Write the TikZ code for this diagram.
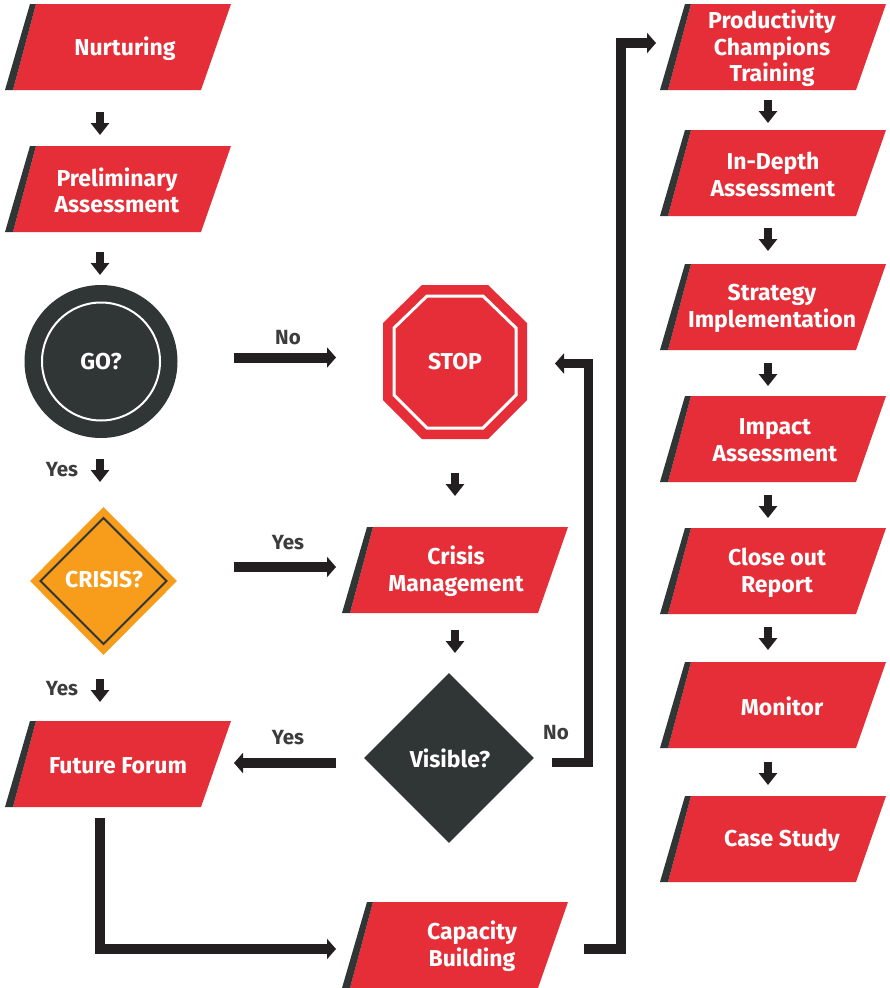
\documentclass[tikz,border=0pt]{standalone}
\usepackage{fontspec}
\setmainfont{Fira Sans}
\usetikzlibrary{arrows.meta,shapes.geometric,calc}
\definecolor{redc}{HTML}{E52E37}
\definecolor{darkc}{HTML}{2F3635}
\definecolor{orangec}{HTML}{F89C1C}
\definecolor{arrc}{HTML}{231F20}
\definecolor{labc}{HTML}{3C3C3C}
\tikzset{
  ptxt/.style={text=white, font=\bfseries\fontsize{23}{26.7}\selectfont, align=center, inner sep=0pt},
  lab/.style={text=labc, font=\bfseries\fontsize{20.5}{24}\selectfont, inner sep=0pt},
  conn/.style={draw=arrc, line width=10pt, -{Triangle[length=9pt,width=20pt]}},
  dconn/.style={draw=arrc, line width=8pt, -{Triangle[length=12pt,width=18pt]}}
}
\newcommand{\pgram}[5]{% name, L, T, text x, text
  \fill[redc] (#2+8,#3+86) -- (#2+31,#3) -- (#2+226,#3) -- (#2+196,#3+86) -- cycle;
  \fill[darkc] (#2,#3+86) -- (#2+25,#3) -- (#2+31,#3) -- (#2+8,#3+86) -- cycle;
  \node[ptxt] (#1) at (#4,#3+44.5) {#5};
}
\begin{document}
\begin{tikzpicture}[x=1pt,y=-1pt]
\useasboundingbox (0,0) rectangle (889,988);
\fill[white] (0,0) rectangle (889,988);

% left column
\pgram{nurt}{5}{4}{125}{Nurturing}
\pgram{prelim}{5}{146}{117}{Preliminary\\Assessment}
\node[circle, fill=darkc, minimum size=153pt, inner sep=0pt] (goc) at (101,361.5) {};
\draw[white, line width=2pt] (goc.center) circle[radius=59pt];
\node[ptxt] (go) at (101,362) {GO?};
\node[diamond, fill=orangec, minimum width=147pt, minimum height=148pt, inner sep=0pt] (crisisd) at (103.5,581) {};
\draw[darkc, line width=2pt] ($(crisisd.center)+(-63,0)$) -- ($(crisisd.center)+(0,-63)$) -- ($(crisisd.center)+(63,0)$) -- ($(crisisd.center)+(0,63)$) -- cycle;
\node[ptxt] (crisis) at (104,580) {CRISIS?};
\pgram{ff}{5}{721}{118}{Future Forum}

% middle column
\fill[redc] (422,285) -- (488,285) -- (527,323) -- (527,400) -- (488,439) -- (422,439) -- (383,400) -- (383,323) -- cycle;
\draw[white, line width=3pt] (427,296) -- (483,296) -- (516,328) -- (516,395) -- (483,428) -- (427,428) -- (394,395) -- (394,328) -- cycle;
\node[ptxt] (stop) at (455,362) {STOP};
\pgram{cm}{342}{527}{456}{Crisis\\Management}
\node[diamond, fill=darkc, minimum width=170pt, minimum height=170pt, inner sep=0pt] (visd) at (449,758) {};
\node[ptxt] (vis) at (450,758) {Visible?};
\pgram{cap}{342}{902}{472}{Capacity\\Building}

% right column
\pgram{pct}{660}{4}{772}{Productivity\\Champions\\Training}
\pgram{ida}{660}{130}{773}{In-Depth\\Assessment}
\pgram{si}{660}{264}{772}{Strategy\\Implementation}
\pgram{ia}{660}{396}{775}{Impact\\Assessment}
\pgram{cor}{660}{528}{777}{Close out\\Report}
\pgram{mon}{660}{662}{782}{Monitor}
\pgram{cs}{660}{796}{782}{Case Study}

% short down arrows
\foreach \n/\x/\ya/\yb in {d1/100/112/135, d2/100/252/275, d3/100/459/482, d4/100/679/702,
  d5/455/473/496, d6/455/630/653,
  d7/768/100/123, d8/768/228/251, d9/768/363/386, d10/768/495/518, d11/768/627/650, d12/768/762/785}{
  \coordinate (\n s) at (\x,\ya);
  \coordinate (\n e) at (\x,\yb);
  \draw[dconn] (\n s) -- (\n e);
}

% labels
\node[lab] (yes1) at (62,470) {Yes};
\node[lab] (yes2) at (62,689) {Yes};
\node[lab] (no1) at (288,338) {No};
\node[lab] (yes3) at (288,543) {Yes};
\node[lab] (yes4) at (288,738) {Yes};
\node[lab] (no2) at (556,733) {No};

% horizontal connectors
\coordinate (gono) at (234,357.5);
\coordinate (stopno) at (336,357.5);
\draw[conn] (gono) -- (stopno);
\coordinate (crisyes) at (234,567);
\coordinate (cmyes) at (336,567);
\draw[conn] (crisyes) -- (cmyes);
\coordinate (visyes) at (336,763);
\coordinate (ffyes) at (234,763);
\draw[conn] (visyes) -- (ffyes);

% loop from Visible back to STOP
\coordinate (vno) at (552,762.5);
\coordinate (stopin) at (555,363.5);
\draw[conn, line width=9pt] (vno) -- (588.5,762.5) -- (588.5,363.5) -- (stopin);

% Future Forum to Capacity Building
\coordinate (ffout) at (100,818);
\coordinate (capin) at (336,949);
\draw[conn] (ffout) -- (100,949) -- (capin);

% Capacity Building to Productivity Champions Training
\coordinate (capout) at (584,949);
\coordinate (pctin) at (656,43);
\draw[conn] (capout) -- (621,949) -- (621,43) -- (pctin);
\end{tikzpicture}
\end{document}
